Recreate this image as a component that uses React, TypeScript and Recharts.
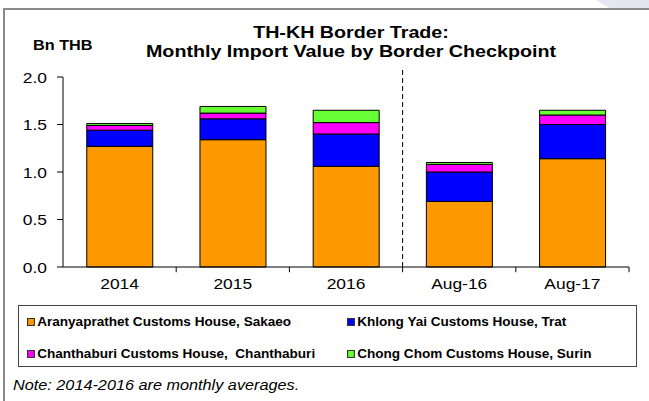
import React from "react";
import {
  BarChart,
  Bar,
  XAxis,
  YAxis,
  ReferenceLine,
} from "recharts";

// monthly import value, Bn THB
const categories = ["2014", "2015", "2016", "Aug-16", "Aug-17"];
const aranyaprathet = [1.27, 1.34, 1.06, 0.69, 1.14];
const khlongYai = [0.17, 0.22, 0.34, 0.31, 0.36];
const chanthaburi = [0.05, 0.06, 0.12, 0.08, 0.1];
const chongChom = [0.02, 0.07, 0.13, 0.02, 0.05];
const yTicks = [0, 0.5, 1, 1.5, 2];
const dividerTicks = [1, 2, 3, 4, 5];

const series = [
  { key: "aranya", name: "Aranyaprathet Customs House, Sakaeo", color: "#FF9900", values: aranyaprathet },
  { key: "khlong", name: "Khlong Yai Customs House, Trat", color: "#0000FF", values: khlongYai },
  { key: "chanta", name: "Chanthaburi Customs House,  Chanthaburi", color: "#FF00FF", values: chanthaburi },
  { key: "chong", name: "Chong Chom Customs House, Surin", color: "#66FF33", values: chongChom },
];

const chartData = categories.map((cat, i) => {
  const row: Record<string, number | string> = { cat, pos: i + 0.5 };
  series.forEach((s) => {
    row[s.key] = s.values[i];
  });
  return row;
});

const FONT = "'Liberation Sans', Arial, Helvetica, sans-serif";
const STRETCH = 1.16;

const YTick = (props: any) => {
  const { x, y, payload } = props;
  return (
    <text
      transform={`translate(${x},${y}) scale(${STRETCH},1)`}
      textAnchor="end"
      dominantBaseline="central"
      fontSize={15}
      fontFamily={FONT}
      fill="#000"
    >
      {Number(payload.value).toFixed(1)}
    </text>
  );
};

const XTick = (props: any) => {
  const { x, y, payload } = props;
  return (
    <text
      transform={`translate(${x},${y}) scale(${STRETCH},1)`}
      textAnchor="middle"
      dominantBaseline="central"
      fontSize={15}
      fontFamily={FONT}
      fill="#000"
    >
      {payload.value}
    </text>
  );
};

const stretched = (origin: string, k = STRETCH): React.CSSProperties => ({
  transform: `scaleX(${k})`,
  transformOrigin: origin,
  whiteSpace: "pre",
});

export default function App() {
  return (
    <div
      style={{
        position: "absolute",
        left: 0,
        top: 0,
        width: 649,
        height: 401,
        background: "#fff",
        overflow: "hidden",
        fontFamily: FONT,
      }}
    >
      {/* faint shape top right */}
      <div
        style={{
          position: "absolute",
          left: 596,
          top: 0,
          width: 53,
          height: 8,
          background: "#e6e6f2",
          clipPath: "polygon(0 0, 100% 0, 100% 100%, 25% 100%)",
        }}
      />
      {/* outer frame */}
      <div
        style={{
          position: "absolute",
          left: 3,
          top: 8,
          width: 660,
          height: 420,
          borderLeft: "2px solid #8a8a8a",
          borderTop: "2px solid #8a8a8a",
        }}
      />

      <div
        style={{
          position: "absolute",
          left: 0,
          width: 702,
          top: 25,
          textAlign: "center",
          fontSize: 16,
          fontWeight: "bold",
          lineHeight: "16px",
          ...stretched("351px 0", 1.23),
        }}
      >
        <div style={{ position: "absolute", left: 0, width: 702, top: 0 }}>
          TH-KH Border Trade:
        </div>
        <div style={{ position: "absolute", left: 0, width: 702, top: 18.5 }}>
          Monthly Import Value by Border Checkpoint
        </div>
      </div>

      <div
        style={{
          position: "absolute",
          left: 33,
          top: 37,
          fontSize: 14,
          fontWeight: "bold",
          lineHeight: "16px",
          ...stretched("0 0"),
        }}
      >
        Bn THB
      </div>

      <div style={{ position: "absolute", left: 0, top: 0 }}>
        <BarChart
          width={649}
          height={300}
          data={chartData}
          margin={{ top: 77, right: 20, bottom: 8, left: 0 }}
          barCategoryGap="21%"
        >
          <XAxis
            dataKey="cat"
            tickLine={false}
            tickSize={0}
            tickMargin={16}
            height={25}
            axisLine={{ stroke: "#000" }}
            tick={<XTick />}
            interval={0}
          />
          <XAxis
            xAxisId="num"
            dataKey="pos"
            type="number"
            domain={[0, 5]}
            allowDataOverflow
            hide
          />
          <YAxis
            width={63}
            domain={[0, 2]}
            ticks={yTicks}
            tickSize={6}
            tickMargin={10}
            axisLine={{ stroke: "#000" }}
            tickLine={{ stroke: "#000" }}
            tick={<YTick />}
            interval={0}
          />
          {series.map((s) => (
            <Bar
              key={s.key}
              dataKey={s.key}
              name={s.name}
              stackId="a"
              fill={s.color}
              stroke="#000"
              strokeWidth={1}
              isAnimationActive={false}
            />
          ))}
          {dividerTicks.map((t) => (
            <ReferenceLine
              key={t}
              xAxisId="num"
              segment={[
                { x: t, y: 0 },
                { x: t, y: -0.055 },
              ]}
              stroke="#000"
              ifOverflow="visible"
            />
          ))}
          <ReferenceLine
            xAxisId="num"
            segment={[
              { x: 3, y: 0 },
              { x: 3, y: 2.1 },
            ]}
            stroke="#000"
            strokeDasharray="5 3"
            ifOverflow="visible"
          />
        </BarChart>
      </div>

      {/* legend */}
      <div
        style={{
          position: "absolute",
          left: 18,
          top: 305,
          width: 619,
          height: 62,
          border: "1px solid #444",
          boxSizing: "border-box",
        }}
      >
        {series.map((s, i) => {
          const col = i % 2;
          const row = Math.floor(i / 2);
          return (
            <div
              key={s.key}
              style={{
                position: "absolute",
                left: col === 0 ? 8 : 328,
                top: row === 0 ? 8 : 40,
                height: 16,
                display: "flex",
                alignItems: "center",
                fontSize: 12,
                fontWeight: "bold",
                ...stretched("0 50%", 1.13),
              }}
            >
              <span
                style={{
                  display: "inline-block",
                  width: 5,
                  height: 6,
                  background: s.color,
                  border: "1px solid #333",
                  marginRight: 2,
                }}
              />
              {s.name}
            </div>
          );
        })}
      </div>

      <div
        style={{
          position: "absolute",
          left: 13,
          top: 377,
          fontSize: 14,
          fontStyle: "italic",
          lineHeight: "16px",
          ...stretched("0 0"),
        }}
      >
        Note: 2014-2016 are monthly averages.
      </div>
    </div>
  );
}
